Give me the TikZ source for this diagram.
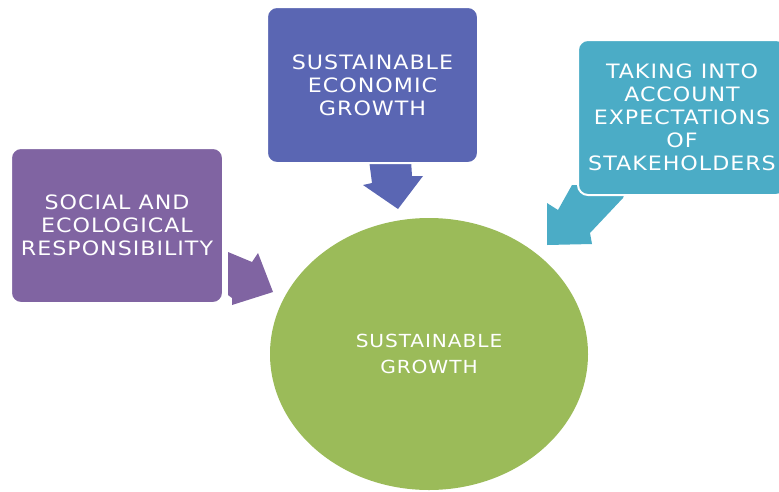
\documentclass[tikz,border=0pt]{standalone}
\usepackage{fontspec}
\usetikzlibrary{shapes.geometric}
\newfontfamily\dfont[FakeStretch=1.12,LetterSpace=5]{DejaVu Sans}
\definecolor{cpurple}{HTML}{8064A2}
\definecolor{cblue}{HTML}{5A66B3}
\definecolor{cteal}{HTML}{4BACC6}
\definecolor{cgreen}{HTML}{9BBB59}
\tikzset{
  boxnode/.style={rectangle, rounded corners=10pt, draw=white, line width=2pt,
    text=white, align=center, inner sep=0pt,
    font=\dfont\fontsize{19.8}{23}\selectfont},
  blockarrow/.style={draw=none}
}
\begin{document}
\begin{tikzpicture}[x=1pt,y=-1pt]
\useasboundingbox (0,0) rectangle (779,491);
% block arrows
\fill[cpurple,blockarrow] (228,252) -- (252,262) -- (258,253) -- (273,292) -- (232,305) -- (232,298) -- (228,295) -- cycle;
\fill[cblue,blockarrow] (369,160) -- (411,160) -- (412,176) -- (423,176) -- (398,209) -- (363,185) -- (372,183) -- cycle;
\fill[cteal,blockarrow] (547,203) -- (558,210) -- (572,185) -- (628,185) -- (623,198) -- (590,233) -- (592,244) -- (547,245) -- cycle;
% nodes
\node[boxnode, fill=cpurple, minimum width=212pt, minimum height=155pt] (social) at (117,225.5)
  {SOCIAL AND\\ECOLOGICAL\\RESPONSIBILITY};
\node[boxnode, fill=cblue, minimum width=211pt, minimum height=156pt] (economic) at (372.5,85)
  {SUSTAINABLE\\ECONOMIC\\GROWTH};
\node[boxnode, fill=cteal, minimum width=208pt, minimum height=155pt] (stake) at (682,117.5)
  {\fontsize{19.8}{24.2}\selectfont TAKING INTO\\ACCOUNT\\EXPECTATIONS\\OF\\STAKEHOLDERS};
\node[ellipse, fill=cgreen, minimum width=318pt, minimum height=272pt, inner sep=0pt,
  text=white, align=center, font=\dfont\fontsize{18}{26}\selectfont] (growth) at (429,354)
  {SUSTAINABLE\\GROWTH};
\end{tikzpicture}
\end{document}
